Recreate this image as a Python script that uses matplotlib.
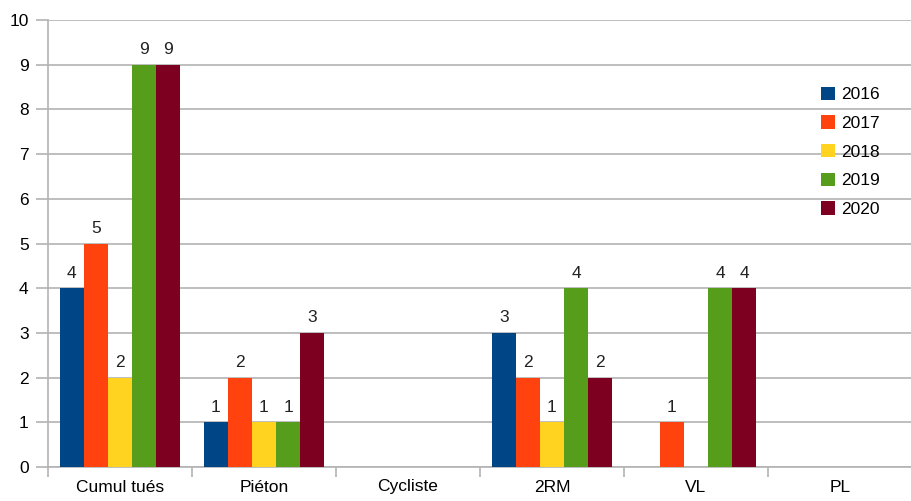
import matplotlib
matplotlib.use("Agg")
import matplotlib.pyplot as plt
import numpy as np

categories = ["Cumul tués", "Piéton", "Cycliste", "2RM", "VL", "PL"]
years = ["2016", "2017", "2018", "2019", "2020"]
v2016 = [4, 1, 0, 3, 0, 0]
v2017 = [5, 2, 0, 2, 1, 0]
v2018 = [2, 1, 0, 1, 0, 0]
v2019 = [9, 1, 0, 4, 4, 0]
v2020 = [9, 3, 0, 2, 4, 0]
series = [v2016, v2017, v2018, v2019, v2020]
colors = ["#004586", "#ff420e", "#ffd320", "#579d1c", "#7e0021"]

plt.rcParams["font.family"] = ["Liberation Sans", "DejaVu Sans"]

W, H = 912, 501
fig = plt.figure(figsize=(W / 100, H / 100), dpi=100)
left, right, top, bottom = 48, 912, 20, 467
ax = fig.add_axes([left / W, 1 - bottom / H, (right - left) / W, (bottom - top) / H])

cat_w = 145.7
x = np.arange(len(categories))
bw = 0.1675
grid_c = "#b3b3b3"

for i, (vals, c, yr) in enumerate(zip(series, colors, years)):
    pos = x + (i - 2) * bw
    bars = ax.bar(pos, vals, width=bw, color=c, label=yr, zorder=3)
    for xp, v in zip(pos, vals):
        if v:
            ax.text(xp, v + 0.17, str(v), ha="center", va="bottom",
                    fontsize=12.5, color="#222222", zorder=4)

ax.set_ylim(0, 10)
ax.set_xlim(-0.5, -0.5 + (right - left) / cat_w)
ax.set_yticks(range(11))
ax.yaxis.grid(True, color=grid_c, linewidth=1.2, zorder=0)
ax.set_axisbelow(True)

ax.set_xticks(x)
ax.set_xticklabels(categories)
ax.set_xticks(np.arange(-0.5, 6, 1), minor=True)
ax.tick_params(axis="x", which="major", length=0, pad=9, labelsize=12.5)
ax.tick_params(axis="x", which="minor", length=7, color=grid_c, width=1.2)
ax.tick_params(axis="y", length=9, color=grid_c, width=1.2, pad=5, labelsize=12.5)

for s in ["top", "right"]:
    ax.spines[s].set_visible(False)
for s in ["left", "bottom"]:
    ax.spines[s].set_color(grid_c)
    ax.spines[s].set_linewidth(1.2)

ax.legend(loc="upper left", bbox_to_anchor=((812 - left) / (right - left), (bottom - 78) / (bottom - top)),
          frameon=False, fontsize=12.5, handlelength=0.8, handleheight=0.8,
          handletextpad=0.4, labelspacing=0.75, borderpad=0)

fig.savefig("out.png", dpi=100)
